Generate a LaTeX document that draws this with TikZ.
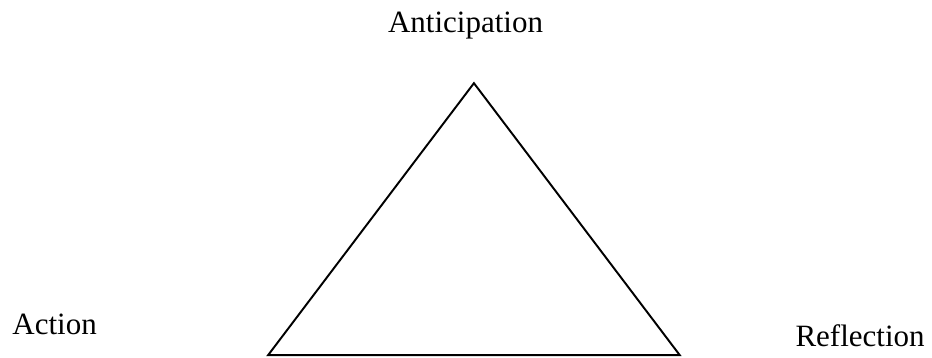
\documentclass[tikz,border=0pt]{standalone}
\usepackage{fontspec}
\setmainfont{Liberation Serif}
\usetikzlibrary{positioning}
\tikzset{
  lbl/.style={inner sep=0pt, font=\fontsize{12}{14}\selectfont},
  side/.style={line width=0.75pt, line join=miter},
}
\begin{document}
\begin{tikzpicture}
  \useasboundingbox (0,0) rectangle (12.684,4.872);
  % corners of the triangle
  \coordinate (apex) at (6.45,3.74);
  \coordinate (left) at (3.65,0.04);
  \coordinate (right) at (9.25,0.04);
  \draw[side] (apex) -- (left) -- (right) -- cycle;
  % labels
  \node[lbl, anchor=base] (antic) at (6.336,4.423) {Anticipation};
  \node[lbl, anchor=base west] (act) at (0.163,0.313) {Action};
  \node[lbl, anchor=base west] (refl) at (10.82,0.150) {Reflection};
\end{tikzpicture}
\end{document}
